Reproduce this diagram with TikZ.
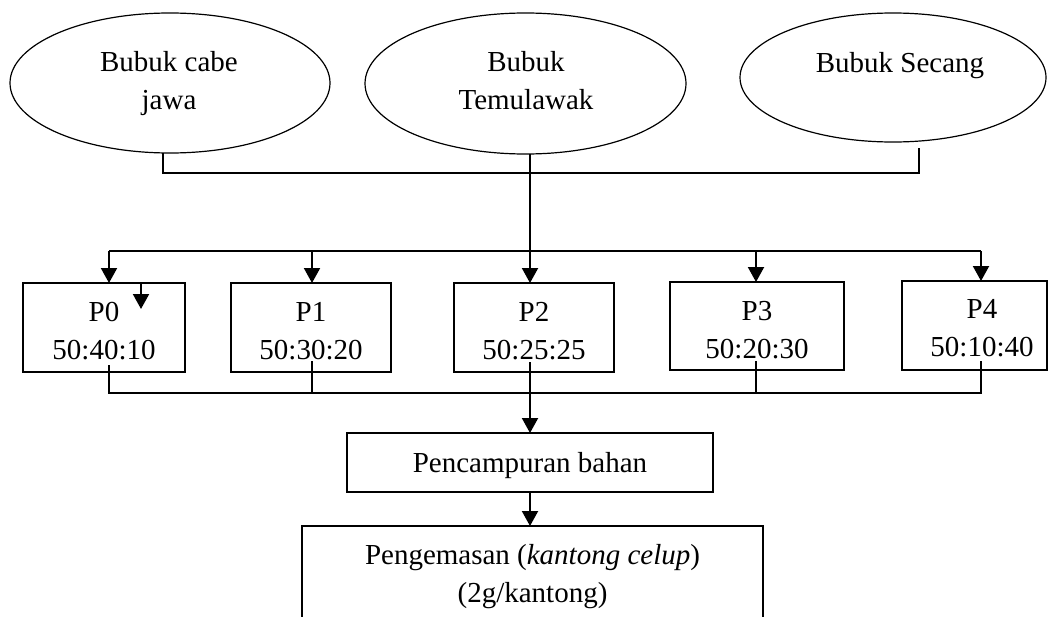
\documentclass[tikz,border=0pt]{standalone}
\usepackage{fontspec}
\setmainfont{Liberation Serif}
\usetikzlibrary{shapes.geometric,arrows.meta,calc}
\begin{document}
\begin{tikzpicture}[x=1pt,y=-1pt,
  lbl/.style={font=\fontsize{29}{38}\selectfont, align=center, inner sep=0pt},
  ell/.style={draw, ellipse, line width=1.2pt, inner sep=0pt, outer sep=0pt},
  box/.style={draw, rectangle, line width=1.3pt, inner sep=0pt, outer sep=0pt},
  ln/.style={line width=1.3pt},
  arr/.style={line width=2pt, -{Triangle[width=16pt,length=15pt]}}]
\clip (0,0) rectangle (1048,616);
\fill[white] (0,0) rectangle (1048,616);

% ellipses
\node[ell, minimum width=320pt, minimum height=140pt] (e1) at (170,83) {};
\node[ell, minimum width=321pt, minimum height=141pt] (e2) at (525.5,83.5) {};
\node[ell, minimum width=306pt, minimum height=129pt] (e3) at (893,77.5) {};
\node[lbl] (t1) at (169,84) {Bubuk cabe\\jawa};
\node[lbl] (t2) at (526,81) {Bubuk\\Temulawak};
\node[lbl] (t3) at (900,65.5) {Bubuk Secang};

% P boxes
\node[box, minimum width=162pt, minimum height=89pt] (p0) at (104,327.5) {};
\node[box, minimum width=160pt, minimum height=89pt] (p1) at (311,327.5) {};
\node[box, minimum width=160pt, minimum height=89pt] (p2) at (534,327.5) {};
\node[box, minimum width=174pt, minimum height=88pt] (p3) at (757,326) {};
\node[box, minimum width=145pt, minimum height=89pt] (p4) at (974.5,325.5) {};
\node[lbl] (p0t) at (104,331.5) {P0\\50:40:10};
\node[lbl] (p1t) at (311,331.5) {P1\\50:30:20};
\node[lbl] (p2t) at (534,331.5) {P2\\50:25:25};
\node[lbl] (p3t) at (757,330) {P3\\50:20:30};
\node[lbl] (p4t) at (982,328.5) {P4\\50:10:40};

% lower boxes
\node[box, minimum width=366pt, minimum height=59pt] (pc) at (530,462.5) {};
\node[lbl] (pct) at (530,466) {Pencampuran bahan};
\node[box, minimum width=461pt, minimum height=114pt] (pk) at (532.5,583) {};
\node[lbl] (pkt) at (532.5,577) {Pengemasan (\textit{kantong celup})\\(2g/kantong)};

% coordinates
\coordinate (j1) at (163,173);
\coordinate (j3) at (919,173);
\coordinate (m) at (530,251);
\coordinate (d0) at (109,251);
\coordinate (d1) at (312,251);
\coordinate (d3) at (756,251);
\coordinate (d4) at (981,251);
\coordinate (s) at (141,309);
\coordinate (b0) at (109,393);
\coordinate (b1) at (312,393);
\coordinate (b3) at (756,393);
\coordinate (b4) at (981,393);

% top collector
\draw[ln] (e1.south -| j1) -- (j1) -- (j3) -- ($(e3.south -| j3)+(0,6)$);
\draw[arr] (e2.south -| m) -- (p2.north -| m);

% distribution
\draw[ln] (d0) -- (d4);
\draw[arr] (d0) -- (p0.north -| d0);
\draw[arr] (d1) -- (p1.north -| d1);
\draw[arr] (d3) -- (p3.north -| d3);
\draw[arr] (d4) -- (p4.north -| d4);
\draw[arr] (p0.north -| s) -- (s);

% lower collector
\draw[ln] ($(p0.south -| b0)+(0,-7)$) -- (b0) -- (b4) -- ($(p4.south -| b4)+(0,-9)$);
\draw[ln] ($(p1.south -| b1)+(0,-11)$) -- (b1);
\draw[ln] ($(p3.south -| b3)+(0,-9)$) -- (b3);
\draw[arr] ($(p2.south -| m)+(0,-10)$) -- (pc.north -| m);
\draw[arr] (pc.south -| m) -- (pk.north -| m);
\end{tikzpicture}
\end{document}
